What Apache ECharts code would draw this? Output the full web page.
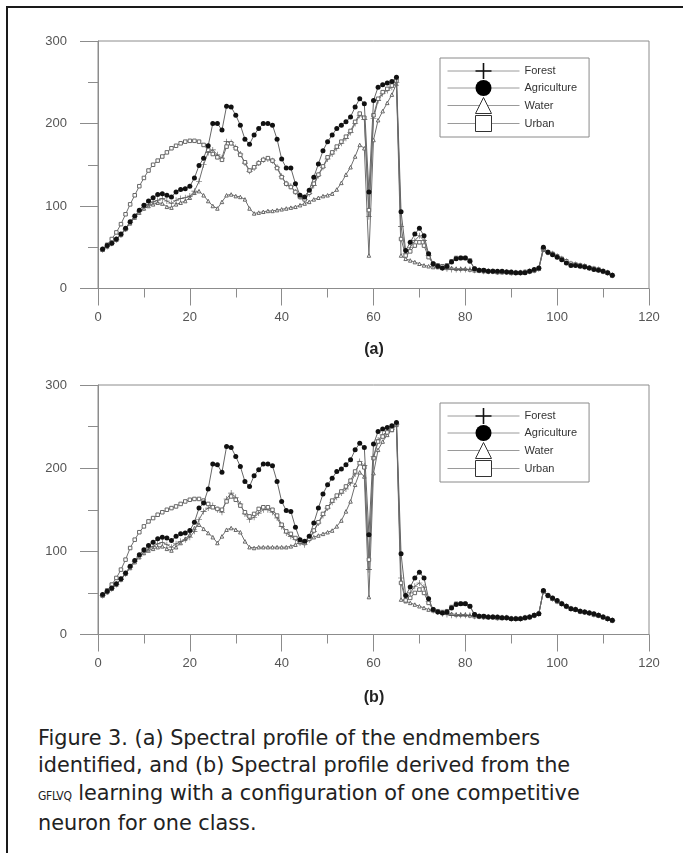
<!DOCTYPE html>
<html><head><meta charset="utf-8">
<script src="https://cdn.jsdelivr.net/npm/echarts@6/dist/echarts.min.js"></script>
<style>
html,body{margin:0;padding:0;background:#fff;width:683px;height:853px;overflow:hidden;}
#frame{position:absolute;left:6px;top:6px;width:800px;height:900px;border-left:2px solid #1a1a1a;border-top:2px solid #1a1a1a;}
#chart{position:absolute;left:0;top:0;width:683px;height:710px;}
#caption{position:absolute;left:38px;top:725px;font-family:'DejaVu Sans',sans-serif;font-size:20.8px;line-height:27.3px;color:#222;white-space:nowrap;}
#caption .sc{font-family:'DejaVu Sans Condensed','DejaVu Sans',sans-serif;font-size:12px;letter-spacing:-0.3px;}
</style></head>
<body>
<div id="frame"></div>
<div id="chart"></div>
<div id="caption">Figure 3. (a) Spectral profile of the endmembers<br>identified, and (b) Spectral profile derived from the<br><span class="sc">GFLVQ</span> learning with a configuration of one competitive<br>neuron for one class.</div>
<script>
// ---- data: band index 1..112 ----
const seriesNames = ['Forest', 'Agriculture', 'Water', 'Urban'];
const xTicks = [0, 20, 40, 60, 80, 100, 120];
const yTicks = [0, 100, 200, 300];

const aForest = [47,51,55,59,65,72,80,87,93,98,
102,105,107,109,106,103,107,109,110,112,
118,130,150,165,168,162,158,178,177,171,
163,152,142,146,152,156,157,155,147,136,
127,124,117,111,108,115,125,137,147,157,
163,170,176,182,189,200,210,205,87,206,
228,236,240,244,250,75,42,50,58,64,
58,40,29,27,25,24,23,23,23,23,
23,22,22,21,21,21,20,20,20,19,
19,19,20,21,22,24,48,44,42,39,
36,33,30,29,28,27,25,24,23,21,
19,16];
const aAgriculture = [48,52,55,60,66,73,81,88,95,101,
106,110,114,115,113,111,117,120,121,124,
134,149,158,173,200,200,192,221,220,210,
198,181,175,186,194,200,200,198,181,157,
146,146,127,113,111,119,135,151,167,178,
186,194,198,202,208,220,230,224,117,228,
244,247,249,251,256,93,46,56,66,73,
64,42,30,27,25,27,32,36,37,37,
33,24,22,22,21,21,21,21,20,20,
19,19,19,21,23,25,50,44,41,38,
35,31,28,28,27,26,25,23,22,21,
19,16];
const aWater = [47,51,55,59,65,72,79,86,92,97,
100,102,104,103,99,98,102,104,106,110,
116,118,113,106,100,97,105,113,114,112,
111,108,97,91,92,93,94,94,95,96,
97,98,99,101,103,105,108,110,112,113,
115,120,128,138,147,160,174,170,40,180,
204,215,225,235,248,40,36,34,32,30,
28,27,26,26,25,25,25,24,24,24,
23,22,22,21,21,21,20,20,20,19,
19,19,20,21,22,24,47,44,42,39,
36,33,30,29,28,27,25,24,23,21,
19,16];
const aUrban = [47,53,60,68,78,90,102,113,124,134,
143,150,155,160,165,170,173,176,178,179,
179,178,174,168,163,159,156,172,176,170,
162,153,143,147,152,156,158,155,146,135,
127,123,117,111,108,116,127,138,148,159,
165,172,178,184,191,202,212,207,95,210,
230,238,242,246,252,60,40,45,52,56,
52,38,30,28,27,28,33,37,37,37,
34,24,22,22,21,21,20,20,20,19,
19,19,20,21,22,24,48,44,42,39,
36,33,30,29,28,27,25,24,23,21,
19,16];

const bForest = [47,51,55,60,66,73,81,88,94,99,
103,106,109,111,108,105,109,112,114,117,
124,138,148,152,155,150,147,163,170,165,
157,145,138,141,146,150,150,147,140,130,
122,118,114,110,108,114,124,134,143,152,
159,165,170,175,182,193,208,203,78,214,
234,240,244,247,253,68,42,50,58,62,
57,40,29,27,25,24,23,23,23,23,
23,22,22,21,21,21,20,20,20,19,
19,19,20,21,23,25,52,47,43,40,
37,34,31,30,28,27,26,24,23,21,
19,17];
const bAgriculture = [48,52,56,61,67,74,82,89,96,102,
107,111,115,117,116,113,118,121,122,125,
135,152,158,175,205,204,195,226,225,214,
202,184,178,191,198,205,205,203,184,160,
149,148,129,114,112,118,134,152,169,180,
188,196,199,204,210,222,230,225,120,229,
244,247,249,251,255,97,47,57,68,75,
68,43,30,27,26,27,32,36,37,37,
34,24,22,22,21,21,21,20,20,19,
19,19,20,21,23,25,53,47,44,41,
37,34,31,30,28,27,26,25,23,21,
19,17];
const bWater = [47,51,55,60,66,73,80,87,93,98,
101,103,105,106,103,101,105,110,115,120,
128,132,127,122,117,110,118,126,128,126,
123,112,105,104,105,105,105,105,105,105,
105,106,108,111,112,115,117,119,121,123,
125,130,137,148,160,180,195,190,45,194,
222,232,240,246,252,42,40,38,36,34,
32,30,29,28,27,26,25,24,24,24,
23,22,22,21,21,21,20,20,20,19,
19,19,20,21,23,25,52,47,43,40,
37,34,31,30,28,27,26,24,23,21,
19,17];
const bUrban = [47,53,60,68,78,90,104,114,123,130,
136,140,144,147,150,152,154,157,160,162,
163,163,161,157,153,151,150,160,166,162,
155,147,142,145,151,153,153,150,143,132,
124,121,116,112,110,115,125,135,145,153,
161,167,172,178,185,196,206,201,90,212,
232,238,243,246,253,62,41,44,50,54,
50,38,30,28,27,28,33,37,37,37,
34,24,22,22,21,21,20,20,20,19,
19,19,20,21,23,25,52,47,43,40,
37,34,31,30,28,27,26,24,23,21,
19,17];

// ---- styling ----
const FONT = "'Liberation Sans', Arial, sans-serif";
const AX = '#8c8c8c';
const plusPath = 'path://M9,0H11V9H20V11H11V20H9V11H0V9H9Z';
const styles = {
  Forest:      {symbol: plusPath, symbolSize: 6, itemStyle: {color: '#555'}, lineStyle: {color: '#6e6e6e', width: 1}, z: 3},
  Agriculture: {symbol: 'circle', symbolSize: 5, itemStyle: {color: '#111'}, lineStyle: {color: '#666', width: 1}, z: 5},
  Water:       {symbol: 'triangle', symbolSize: 3.5, itemStyle: {color: '#fff', borderColor: '#666', borderWidth: 1}, lineStyle: {color: '#6e6e6e', width: 1}, z: 2},
  Urban:       {symbol: 'rect', symbolSize: 3.5, itemStyle: {color: '#fff', borderColor: '#666', borderWidth: 1}, lineStyle: {color: '#6e6e6e', width: 1}, z: 4}
};
const panels = [
  {vals: {Forest: aForest, Agriculture: aAgriculture, Water: aWater, Urban: aUrban}},
  {vals: {Forest: bForest, Agriculture: bAgriculture, Water: bWater, Urban: bUrban}}
];

function mkX(i) {
  return {
    type: 'value', gridIndex: i, min: xTicks[0], max: xTicks[xTicks.length - 1], interval: xTicks[1] - xTicks[0],
    axisLine: {show: true, lineStyle: {color: AX, width: 1}},
    axisTick: {show: true, inside: false, length: 17, lineStyle: {color: AX, width: 1}},
    minorTick: {show: true, splitNumber: 2, length: 9, lineStyle: {color: AX, width: 1}},
    axisLabel: {margin: 22, color: '#555', fontSize: 13, fontFamily: FONT, showMinLabel: true, showMaxLabel: true},
    splitLine: {show: false}, minorSplitLine: {show: false}
  };
}
function mkY(i) {
  return {
    type: 'value', gridIndex: i, min: yTicks[0], max: yTicks[yTicks.length - 1], interval: yTicks[1] - yTicks[0],
    axisLine: {show: true, lineStyle: {color: AX, width: 1}},
    axisTick: {show: true, inside: false, length: 18, lineStyle: {color: AX, width: 1}},
    minorTick: {show: true, splitNumber: 2, length: 10, lineStyle: {color: AX, width: 1}},
    axisLabel: {margin: 31, color: '#555', fontSize: 13, fontFamily: FONT},
    splitLine: {show: false}, minorSplitLine: {show: false}
  };
}
function mkLegend(top) {
  return {
    orient: 'vertical', left: 440, top: top, padding: [5, 12, 5, 7], itemGap: 1,
    itemWidth: 72, itemHeight: 20, borderColor: '#8a8a8a', borderWidth: 1, backgroundColor: '#fff',
    selectedMode: false,
    lineStyle: {color: '#9a9a9a', width: 1},
    textStyle: {fontSize: 11, color: '#333', fontFamily: FONT},
    data: [
      {name: 'Forest', itemStyle: {color: '#111', borderWidth: 0}},
      {name: 'Agriculture', itemStyle: {color: '#000', borderWidth: 0}},
      {name: 'Water', itemStyle: {color: '#fff', borderColor: '#333', borderWidth: 1}},
      {name: 'Urban', itemStyle: {color: '#fff', borderColor: '#333', borderWidth: 1}}
    ]
  };
}

const series = [];
const order = ['Water', 'Forest', 'Urban', 'Agriculture'];
panels.forEach((p, gi) => {
  order.forEach(name => {
    const st = styles[name];
    series.push({
      name: name, type: 'line', xAxisIndex: gi, yAxisIndex: gi,
      data: p.vals[name].map((v, k) => [k + 1, v]),
      symbol: st.symbol, symbolSize: st.symbolSize, showSymbol: true,
      itemStyle: st.itemStyle, lineStyle: st.lineStyle, z: st.z,
      animation: false, emphasis: {disabled: true}
    });
  });
});

const chart = echarts.init(document.getElementById('chart'), null, {renderer: 'canvas'});
chart.setOption({
  animation: false,
  backgroundColor: 'transparent',
  grid: [
    {left: 98, top: 41, width: 551, height: 247.5, show: true, borderColor: AX, borderWidth: 1, backgroundColor: 'transparent', containLabel: false},
    {left: 98, top: 385, width: 551, height: 249.5, show: true, borderColor: AX, borderWidth: 1, backgroundColor: 'transparent', containLabel: false}
  ],
  xAxis: [mkX(0), mkX(1)],
  yAxis: [mkY(0), mkY(1)],
  legend: [mkLegend(58), mkLegend(403)],
  graphic: [
    {type: 'text', x: 374, y: 350, style: {text: '(a)', align: 'center', verticalAlign: 'middle', font: "bold 16px 'Liberation Sans', Arial, sans-serif", fill: '#222'}},
    {type: 'text', x: 374, y: 698, style: {text: '(b)', align: 'center', verticalAlign: 'middle', font: "bold 16px 'Liberation Sans', Arial, sans-serif", fill: '#222'}}
  ],
  series: series
});
</script>
</body></html>
